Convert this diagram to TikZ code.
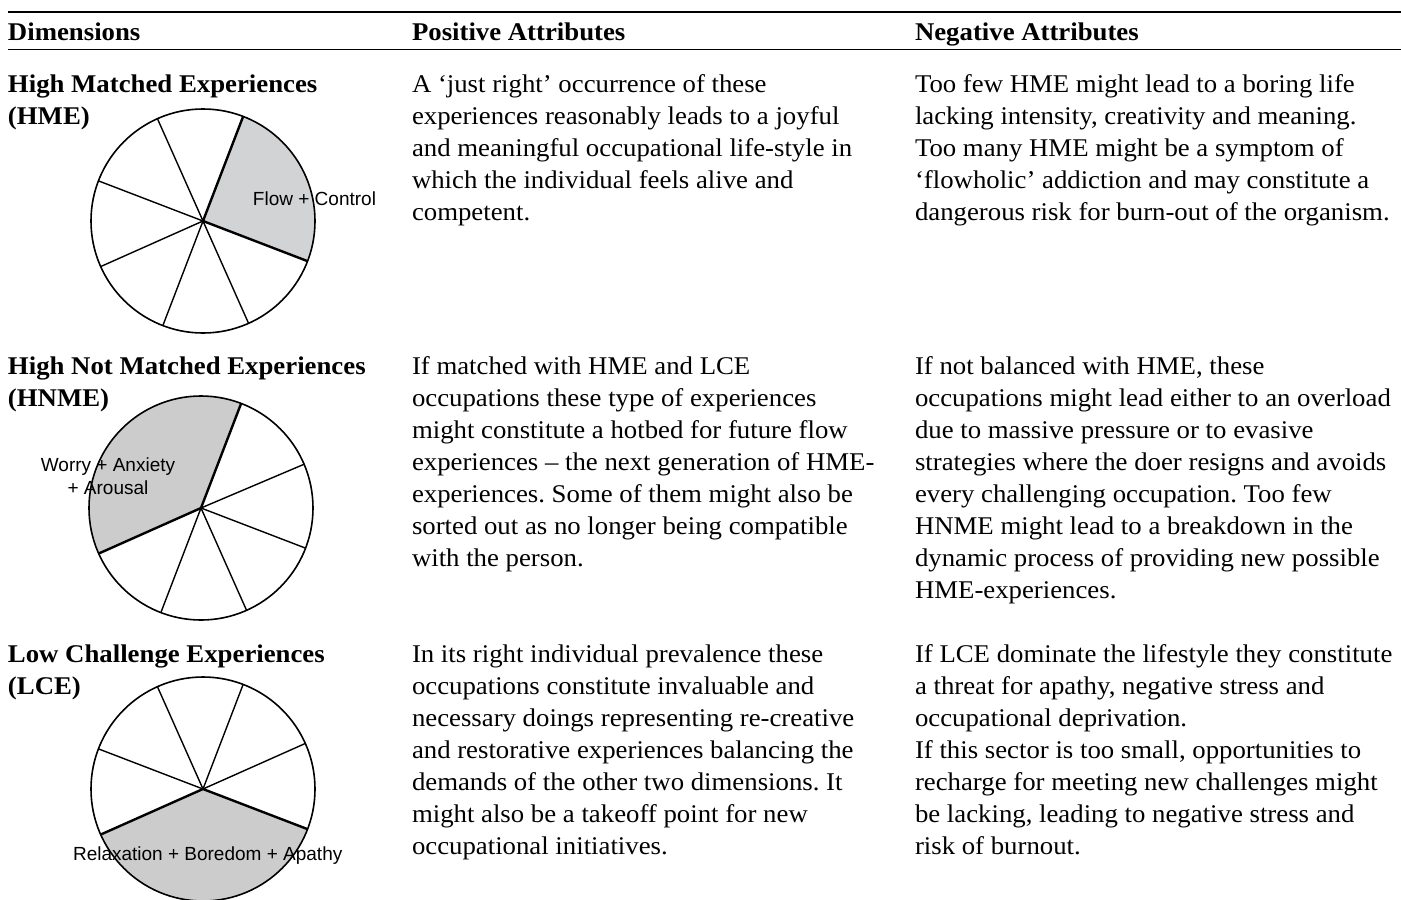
\documentclass[tikz,border=0pt]{standalone}
\usepackage{fontspec}
\setmainfont[FakeStretch=1.05]{Liberation Serif}
\newfontfamily\piefont{Liberation Sans}
\definecolor{pieA}{RGB}{209,211,212}
\definecolor{pieB}{RGB}{204,204,204}
\frenchspacing
\begin{document}
\begin{tikzpicture}[x=1pt,y=-1pt,
  body/.style={anchor=base west, inner sep=0pt, outer sep=0pt, align=left, font=\fontsize{25.5}{32}\selectfont\frenchspacing},
  head/.style={body, font=\fontsize{25.5}{32}\selectfont\bfseries},
  pielabel/.style={inner sep=0pt, align=center, font=\piefont\fontsize{19}{22.5}\selectfont},
  spoke/.style={line width=1.4pt},
  bspoke/.style={line width=2.4pt},
  rim/.style={line width=1.6pt}]
\useasboundingbox (0,0) rectangle (1401,900);
% rules
\draw[line width=1.8pt] (8,12) -- (1401,12);
\draw[line width=1pt] (8,49) -- (1401,49);
% header
\node[head] (h1) at (8,40.5) {Dimensions};
\node[head] (h2) at (412,40.5) {Positive Attributes};
\node[head] (h3) at (915,40.5) {Negative Attributes};
% row 1 (anchor = baseline of last line)
\node[head] (d1) at (8,124) {High Matched Experiences\\(HME)};
\node[body] (p1) at (412,220) {A ‘just right’ occurrence of these\\experiences reasonably leads to a joyful\\and meaningful occupational life-style in\\which the individual feels alive and\\competent.};
\node[body] (n1) at (915,220) {Too few HME might lead to a boring life\\lacking intensity, creativity and meaning.\\Too many HME might be a symptom of\\‘flowholic’ addiction and may constitute a\\dangerous risk for burn-out of the organism.};
% row 2
\node[head] (d2) at (8,406) {High Not Matched Experiences\\(HNME)};
\node[body] (p2) at (412,566) {If matched with HME and LCE\\occupations these type of experiences\\might constitute a hotbed for future flow\\experiences – the next generation of HME-\\experiences. Some of them might also be\\sorted out as no longer being compatible\\with the person.};
\node[body] (n2) at (915,598) {If not balanced with HME, these\\occupations might lead either to an overload\\due to massive pressure or to evasive\\strategies where the doer resigns and avoids\\every challenging occupation. Too few\\HNME might lead to a breakdown in the\\dynamic process of providing new possible\\HME-experiences.};
% row 3
\node[head] (d3) at (8,694) {Low Challenge Experiences\\(LCE)};
\node[body] (p3) at (412,854) {In its right individual prevalence these\\occupations constitute invaluable and\\necessary doings representing re-creative\\and restorative experiences balancing the\\demands of the other two dimensions. It\\might also be a takeoff point for new\\occupational initiatives.};
\node[body] (n3) at (915,854) {If LCE dominate the lifestyle they constitute\\a threat for apathy, negative stress and\\occupational deprivation.\\If this sector is too small, opportunities to\\recharge for meeting new challenges might\\be lacking, leading to negative stress and\\risk of burnout.};
% pie 1
\begin{scope}[shift={(203,221)}, y=1pt]
  \fill[pieA] (0,0) -- (-21:112) arc[start angle=-21, end angle=69, radius=112] -- cycle;
  \node[pielabel] (l1) at (111.5,22.7) {Flow + Control};
  \foreach \a in {114,159,204,249,294} \draw[spoke] (0,0) -- (\a:112);
  \draw[bspoke] (69:112) -- (0,0) -- (-21:112);
  \draw[rim] (0,0) circle[radius=112];
\end{scope}
% pie 2
\begin{scope}[shift={(201,508)}, y=1pt]
  \fill[pieB] (0,0) -- (69:112) arc[start angle=69, end angle=204, radius=112] -- cycle;
  \node[pielabel] (l2) at (-93,32) {Worry + Anxiety\\+ Arousal};
  \foreach \a in {23,-21,-66,-111} \draw[spoke] (0,0) -- (\a:112);
  \draw[bspoke] (69:112) -- (0,0) -- (204:112);
  \draw[rim] (0,0) circle[radius=112];
\end{scope}
% pie 3
\begin{scope}[shift={(203,789)}, y=1pt]
  \fill[pieB] (0,0) -- (204:112) arc[start angle=204, end angle=339, radius=112] -- cycle;
  \node[pielabel] (l3) at (4.7,-66.7) {Relaxation + Boredom + Apathy};
  \foreach \a in {24,69,114,159} \draw[spoke] (0,0) -- (\a:112);
  \draw[bspoke] (204:112) -- (0,0) -- (339:112);
  \draw[rim] (0,0) circle[radius=112];
\end{scope}
\end{tikzpicture}
\end{document}
